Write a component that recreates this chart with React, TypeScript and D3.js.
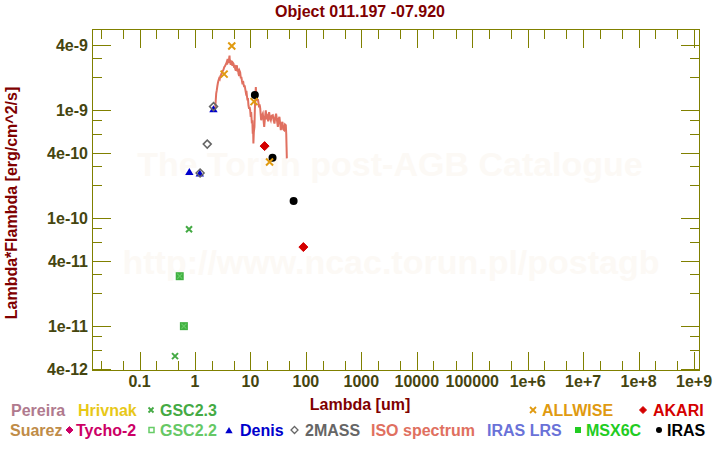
import React from "react";
import * as d3 from "d3";

const titleText = "Object 011.197 -07.920";
const xTitle = "Lambda [um]";
const yTitle = "Lambda*Flambda [erg/cm^2/s]";

const xTickValues = [0.1, 1, 10, 100, 1000, 1e4, 1e5, 1e6, 1e7, 1e8, 1e9];
const xTickLabels = ["0.1", "1", "10", "100", "1000", "10000", "100000", "1e+6", "1e+7", "1e+8", "1e+9"];
const yTickValues = [4e-9, 1e-9, 4e-10, 1e-10, 4e-11, 1e-11, 4e-12];
const yTickLabels = ["4e-9", "1e-9", "4e-10", "1e-10", "4e-11", "1e-11", "4e-12"];

const allwiseWave = [3.35, 4.6, 11.6, 22.1];
const allwiseFlux = [2.14e-9, 3.89e-9, 1.19e-9, 3.28e-10];
const irasWave = [12, 25, 60];
const irasFlux = [1.37e-9, 3.6e-10, 1.43e-10];
const akariWave = [18, 90];
const akariFlux = [4.61e-10, 5.36e-11];
const denisWave = [0.79, 1.22, 2.15];
const denisFlux = [2.65e-10, 2.57e-10, 1.01e-9];
const twomassWave = [1.235, 1.662, 2.159];
const twomassFlux = [2.6e-10, 4.81e-10, 1.07e-9];
const gsc23Wave = [0.436, 0.78];
const gsc23Flux = [5.24e-12, 7.83e-11];
const gsc22Wave = [0.53, 0.63];
const gsc22Flux = [2.88e-11, 9.93e-12];

const isoWave = [2.31, 2.36, 2.41, 2.47, 2.53, 2.59, 2.65, 2.72, 2.79, 2.86, 2.93, 3.02, 3.1, 3.18, 3.26, 3.36, 3.45, 3.55, 3.65, 3.72, 3.8, 3.86, 3.92, 4.0, 4.08, 4.19, 4.25, 4.31, 4.4, 4.5, 4.62, 4.72, 4.82, 4.94, 5.05, 5.18, 5.3, 5.45, 5.55, 5.69, 5.85, 5.95, 6.08, 6.25, 6.4, 6.52, 6.7, 6.85, 7.0, 7.2, 7.35, 7.48, 7.7, 7.85, 8.03, 8.25, 8.45, 8.61, 8.85, 9.0, 9.2, 9.45, 9.65, 9.88, 10.1, 10.3, 10.6, 10.8, 11.0, 11.15, 11.3, 11.5, 11.8, 12.0, 12.2, 12.5, 12.7, 13.0, 13.3, 13.6, 13.9, 14.3, 14.6, 15.0, 15.3, 15.6, 16.1, 16.7, 17.2, 17.7, 18.3, 18.9, 19.5, 20.2, 20.9, 21.7, 22.5, 23.3, 24.2, 25.3, 26.2, 27.1, 28.0, 29.0, 30.1, 31.2, 32.2, 33.3, 34.3, 35.3, 36.5, 37.7, 39.0, 40.5, 42.0, 43.4, 44.2, 44.8, 45.3];
const isoFlux = [1.03e-9, 1.2e-9, 1.41e-9, 1.52e-9, 1.66e-9, 1.78e-9, 1.87e-9, 1.95e-9, 1.92e-9, 2.05e-9, 2.08e-9, 2.18e-9, 2.22e-9, 2.3e-9, 2.35e-9, 2.48e-9, 2.52e-9, 2.6e-9, 2.67e-9, 2.75e-9, 2.62e-9, 2.95e-9, 2.9e-9, 2.7e-9, 2.85e-9, 3.18e-9, 2.75e-9, 2.86e-9, 2.6e-9, 2.8e-9, 2.76e-9, 2.55e-9, 2.72e-9, 2.67e-9, 2.45e-9, 2.6e-9, 2.4e-9, 2.3e-9, 2.5e-9, 2.58e-9, 2.25e-9, 2.4e-9, 2.16e-9, 2.05e-9, 2.28e-9, 2.23e-9, 1.95e-9, 2.02e-9, 1.87e-9, 1.72e-9, 1.85e-9, 1.75e-9, 1.62e-9, 1.68e-9, 1.57e-9, 1.45e-9, 1.5e-9, 1.36e-9, 1.22e-9, 1.28e-9, 1.1e-9, 1.02e-9, 1.06e-9, 0.99e-9, 0.86e-9, 0.95e-9, 0.746e-9, 0.8e-9, 0.6e-9, 0.7e-9, 0.488e-9, 0.62e-9, 0.694e-9, 1.0e-9, 1.25e-9, 1.62e-9, 1.38e-9, 1.31e-9, 1.2e-9, 1.25e-9, 1.18e-9, 1.05e-9, 1.12e-9, 1.03e-9, 0.9e-9, 0.8e-9, 0.88e-9, 0.92e-9, 0.8e-9, 0.694e-9, 0.85e-9, 0.99e-9, 0.82e-9, 0.86e-9, 0.78e-9, 0.95e-9, 0.84e-9, 0.8e-9, 0.88e-9, 0.89e-9, 0.8e-9, 0.746e-9, 0.85e-9, 0.92e-9, 0.8e-9, 0.694e-9, 0.82e-9, 0.86e-9, 0.75e-9, 0.647e-9, 0.74e-9, 0.771e-9, 0.66e-9, 0.647e-9, 0.73e-9, 0.719e-9, 0.6e-9, 0.45e-9, 0.355e-9];

const FONT = "'Liberation Sans', Arial, Helvetica, sans-serif";
const AXIS = "#808000";
const TICKTXT = "#45450f";
const DARKRED = "#800000";

const C = {
  allwise: "#e09a10",
  iras: "#000000",
  akari: "#d40000",
  denis: "#0000cc",
  twomass: "#666666",
  gsc23: "#44aa44",
  gsc22: "#40b040",
  gsc22b: "#66cc66",
  iso: "#e07060",
};

const L = 93, R = 699, T = 30, B = 370;

function cross(x: number, y: number, s: number, color: string, w = 2, key?: any) {
  return (
    <path key={key} d={`M${x - s},${y - s}L${x + s},${y + s}M${x - s},${y + s}L${x + s},${y - s}`} stroke={color} strokeWidth={w} fill="none" />
  );
}
function diamond(x: number, y: number, s: number, fill: string, stroke: string, w = 1, key?: any) {
  return <path key={key} d={`M${x},${y - s}L${x + s},${y}L${x},${y + s}L${x - s},${y}Z`} fill={fill} stroke={stroke} strokeWidth={w} />;
}
function tri(x: number, y: number, s: number, color: string, key?: any) {
  return <path key={key} d={`M${x},${y - s}L${x + s * 1.05},${y + s * 0.75}L${x - s * 1.05},${y + s * 0.75}Z`} fill={color} />;
}

export default function App() {
  const x = d3.scaleLog().domain([Math.pow(10, -1.84), Math.pow(10, 9.09)]).range([L, R]);
  const y = d3.scaleLog().domain([Math.pow(10, -11.409), Math.pow(10, -8.2615)]).range([B, T]);

  const xMinor: number[] = [];
  for (let e = -2; e <= 8; e++) for (const m of [2, 5]) {
    const v = m * Math.pow(10, e);
    if (v > x.domain()[0] && v < x.domain()[1]) xMinor.push(v);
  }
  const yMinor: number[] = [];
  for (let e = -12; e <= -9; e++) for (const m of [2, 3, 6, 8]) {
    const v = m * Math.pow(10, e);
    if (v > y.domain()[0] && v < y.domain()[1]) yMinor.push(v);
  }

  const line = d3.line<number>().x((_, i) => x(isoWave[i])).y((d) => y(d));

  const px = (v: number) => Math.round(x(v)) + 0.5;
  const py = (v: number) => Math.round(y(v)) + 0.5;

  const legendStyle = { fontFamily: FONT, fontWeight: 700, fontSize: 16 } as const;

  return (
    <svg width={720} height={450} style={{ position: "absolute", left: 0, top: 0, background: "#fff" }}>
      <rect x={0} y={0} width={720} height={450} fill="#fff" />
      {/* watermark */}
      <text x={390} y={176} textAnchor="middle" fill="#fcf9f5" style={{ fontFamily: FONT, fontWeight: 700, fontSize: 34 }}>The Torun post-AGB Catalogue</text>
      <text x={391} y={274} textAnchor="middle" fill="#fcf9f5" style={{ fontFamily: FONT, fontWeight: 700, fontSize: 34 }}>http://www.ncac.torun.pl/postagb</text>

      {/* title */}
      <text x={360} y={17} textAnchor="middle" fill={DARKRED} style={{ fontFamily: FONT, fontWeight: 700, fontSize: 16 }}>{titleText}</text>

      {/* frame */}
      <rect x={L - 0.5} y={T - 0.5} width={R - L + 1} height={B - T + 1} fill="none" stroke={AXIS} strokeWidth={1} />

      {/* x ticks */}
      {xTickValues.map((v, i) => (
        <g key={"xt" + i}>
          <line x1={px(v)} x2={px(v)} y1={B} y2={B - 18} stroke={AXIS} />
          <line x1={px(v)} x2={px(v)} y1={T} y2={T + 18} stroke={AXIS} />
          <text x={x(v)} y={387} textAnchor="middle" fill={TICKTXT} style={{ fontFamily: FONT, fontWeight: 700, fontSize: 16 }}>{xTickLabels[i]}</text>
        </g>
      ))}
      {xMinor.map((v, i) => (
        <g key={"xm" + i}>
          <line x1={px(v)} x2={px(v)} y1={B} y2={B - 9} stroke={AXIS} />
          <line x1={px(v)} x2={px(v)} y1={T} y2={T + 9} stroke={AXIS} />
        </g>
      ))}
      {/* y ticks */}
      {yTickValues.map((v, i) => (
        <g key={"yt" + i}>
          <line x1={L} x2={L + 18} y1={py(v)} y2={py(v)} stroke={AXIS} />
          <line x1={R} x2={R - 18} y1={py(v)} y2={py(v)} stroke={AXIS} />
          <text x={88} y={y(v) + 6} textAnchor="end" fill={TICKTXT} style={{ fontFamily: FONT, fontWeight: 700, fontSize: 16 }}>{yTickLabels[i]}</text>
        </g>
      ))}
      {yMinor.map((v, i) => (
        <g key={"ym" + i}>
          <line x1={L} x2={L + 9} y1={py(v)} y2={py(v)} stroke={AXIS} />
          <line x1={R} x2={R - 9} y1={py(v)} y2={py(v)} stroke={AXIS} />
        </g>
      ))}

      {/* axis titles */}
      <text x={360} y={410} textAnchor="middle" fill={DARKRED} style={{ fontFamily: FONT, fontWeight: 700, fontSize: 16 }}>{xTitle}</text>
      <text transform="translate(17,203) rotate(-90)" textAnchor="middle" fill={DARKRED} style={{ fontFamily: FONT, fontWeight: 700, fontSize: 16 }}>{yTitle}</text>

      {/* ISO spectrum */}
      <path d={line(isoFlux) || ""} fill="none" stroke={C.iso} strokeWidth={2} strokeLinejoin="miter" />

      {/* points */}
      {gsc22Wave.map((w, i) => (
        <g key={"g22" + i}>
          <rect x={x(w) - 4} y={y(gsc22Flux[i]) - 4} width={8} height={8} fill={C.gsc22} />
          {cross(x(w), y(gsc22Flux[i]), 2.5, C.gsc22b, 1.2)}
        </g>
      ))}
      {gsc23Wave.map((w, i) => cross(x(w), y(gsc23Flux[i]), 3, C.gsc23, 2, "g23" + i))}
      {denisWave.map((w, i) => tri(x(w), y(denisFlux[i]), 4, C.denis, "de" + i))}
      {twomassWave.map((w, i) => diamond(x(w), y(twomassFlux[i]), 4, "none", C.twomass, 1.5, "tm" + i))}
      {akariWave.map((w, i) => diamond(x(w), y(akariFlux[i]), 4.5, C.akari, C.akari, 1, "ak" + i))}
      {irasWave.map((w, i) => <circle key={"ir" + i} cx={x(w)} cy={y(irasFlux[i])} r={4} fill={C.iras} />)}
      {allwiseWave.map((w, i) => cross(x(w), y(allwiseFlux[i]), 3.5, C.allwise, 2, "aw" + i))}

      {/* legend row 1 */}
      <g style={legendStyle}>
        <text x={11} y={416} fill="#b07a8e">Pereira</text>
        <text x={78} y={416} fill="#e8c818">Hrivnak</text>
        {cross(151, 410, 2.5, C.gsc23, 1.8)}
        <text x={160} y={416} fill="#44aa44">GSC2.3</text>
        {cross(533, 410, 3, C.allwise, 1.8)}
        <text x={542} y={416} fill="#e09a10">ALLWISE</text>
        {diamond(643, 410, 3.5, C.akari, C.akari)}
        <text x={653} y={416} fill="#d40000">AKARI</text>

        {/* legend row 2 */}
        <text x={10} y={436} fill="#c08c48">Suarez</text>
        {diamond(69.5, 430, 3.5, "#cc0066", "#cc0066")}
        <text x={76} y={436} fill="#cc0066">Tycho-2</text>
        <rect x={149} y={427.5} width={5} height={5} fill="none" stroke="#66cc66" strokeWidth={1.5} />
        <text x={160} y={436} fill="#66c866">GSC2.2</text>
        {tri(229, 430.5, 3.5, C.denis)}
        <text x={240} y={436} fill={C.denis}>Denis</text>
        {diamond(294.5, 430, 3.5, "none", C.twomass, 1.3)}
        <text x={305} y={436} fill={C.twomass}>2MASS</text>
        <text x={371} y={436} fill={C.iso}>ISO spectrum</text>
        <text x={487} y={436} fill="#6a72d8">IRAS LRS</text>
        <rect x={575} y={427} width={6} height={6} fill="#22cc22" />
        <text x={586} y={436} fill="#22cc22">MSX6C</text>
        <circle cx={659} cy={430} r={3} fill="#000" />
        <text x={667} y={436} fill="#000">IRAS</text>
      </g>
    </svg>
  );
}
